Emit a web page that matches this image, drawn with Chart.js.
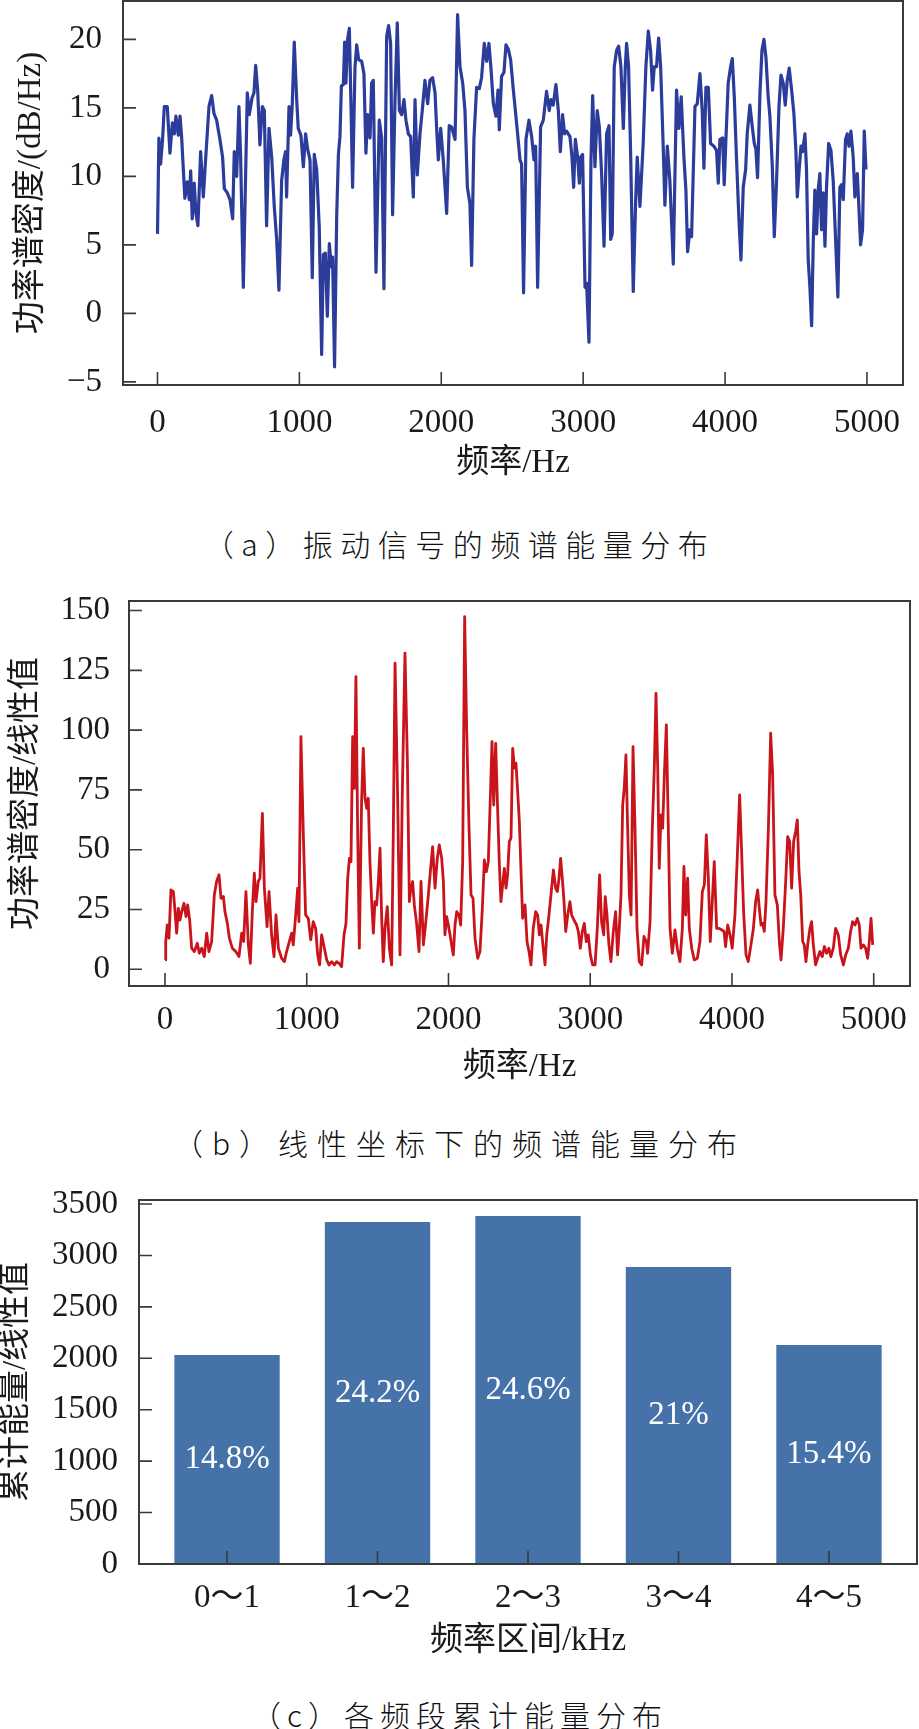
<!DOCTYPE html>
<html lang="zh-CN">
<head>
<meta charset="utf-8">
<title>频谱能量分布</title>
<script src="https://cdn.jsdelivr.net/npm/chart.js@4.4.1/dist/chart.umd.min.js"></script>
<style>
  html, body { margin:0; padding:0; background:#fff; }
  body { width:919px; height:1729px; position:relative; overflow:hidden; }
  .box { position:absolute; left:0; width:919px; }
  .cap { position:absolute; left:0; width:919px; text-align:center; color:#111;
         font-family:"Noto Sans CJK SC", sans-serif; font-weight:300;
         font-size:30px; line-height:36px; }
</style>
</head>
<body>
<div class="box" style="top:0;height:500px"><canvas id="chartA"></canvas></div>
<div class="cap" style="top:525px;letter-spacing:7.5px">（a）振动信号的频谱能量分布</div>
<div class="box" style="top:560px;height:540px"><canvas id="chartB"></canvas></div>
<div class="cap" style="top:1124px;letter-spacing:9px">（b）线性坐标下的频谱能量分布</div>
<div class="box" style="top:1170px;height:510px"><canvas id="chartC"></canvas></div>
<div class="cap" style="top:1696px;letter-spacing:6px">（c）各频段累计能量分布</div>

<script>
// (a) 功率谱密度 dB/Hz
const freqA = [0,10,22,36,48,69,88,105,119,130,147,159,170,193,210,224,234,245,259,271,285,304,323,339,363,382,398,417,440,459,471,492,511,530,541,558,574,586,605,633,647,666,680,692,706,722,739,753,769,786,805,823,840,856,875,892,903,910,927,938,950,964,981,992,1011,1028,1044,1058,1075,1091,1105,1122,1140,1157,1169,1183,1197,1211,1225,1234,1248,1263,1275,1286,1296,1310,1319,1328,1340,1352,1363,1375,1392,1404,1418,1439,1455,1469,1481,1498,1509,1521,1540,1563,1580,1596,1615,1629,1643,1657,1674,1690,1705,1721,1737,1751,1768,1784,1803,1815,1831,1850,1866,1885,1904,1920,1939,1956,1967,1979,1996,2014,2038,2056,2073,2097,2115,2132,2151,2167,2184,2202,2214,2230,2249,2268,2284,2303,2320,2336,2350,2367,2385,2400,2409,2425,2442,2456,2472,2489,2508,2526,2538,2555,2566,2580,2597,2618,2637,2653,2665,2679,2700,2719,2742,2761,2773,2789,2808,2825,2839,2855,2869,2883,2907,2921,2933,2945,2961,2973,2982,2996,3013,3024,3041,3055,3067,3083,3099,3114,3130,3147,3165,3182,3194,3205,3219,3236,3250,3266,3283,3297,3306,3320,3334,3353,3370,3381,3400,3423,3442,3459,3475,3489,3501,3517,3532,3546,3564,3576,3593,3611,3635,3658,3675,3691,3710,3724,3736,3752,3764,3788,3804,3823,3839,3851,3865,3882,3898,3921,3940,3952,3964,3983,3994,4006,4022,4039,4051,4065,4081,4098,4112,4128,4145,4156,4175,4192,4206,4217,4229,4246,4260,4274,4288,4304,4316,4333,4347,4363,4380,4394,4410,4424,4438,4452,4469,4485,4499,4509,4523,4535,4546,4563,4574,4586,4598,4610,4622,4633,4645,4657,4668,4680,4692,4704,4715,4730,4746,4762,4779,4795,4809,4821,4833,4849,4861,4873,4887,4903,4915,4932,4943,4955,4969,4981,4993];
const psdA = [5.8,12.8,10.9,12.7,15.1,15.1,11.7,13.9,13.1,14.4,13.0,14.4,12.9,8.4,9.6,8.3,10.4,6.9,9.5,7.3,6.4,11.8,8.5,11.2,15.1,15.9,14.6,14.1,12.7,11.4,9.1,8.8,8.3,6.9,11.8,10.0,15.1,11.4,1.9,16.1,14.5,15.7,16.1,18.1,16.3,12.3,15.1,14.8,6.4,13.5,11.4,7.8,5.4,1.7,9.7,11.3,11.8,8.5,15.1,13.0,15.3,19.8,15.6,13.5,13.0,10.7,13.1,12.0,11.2,2.6,11.6,10.5,6.3,-3.0,4.3,4.4,-0.2,5.1,3.4,4.1,-3.9,7.1,11.6,12.9,16.6,16.7,19.8,16.8,20.0,20.8,15.6,9.2,18.0,19.6,18.5,18.4,17.5,11.7,14.5,12.8,16.8,17.0,3.0,14.1,12.8,1.8,20.2,21.0,19.7,7.2,15.6,21.2,14.8,14.5,15.6,14.1,13.1,12.9,8.5,15.6,10.1,13.1,14.8,17.0,15.3,17.0,17.2,16.1,13.6,11.2,13.5,11.2,7.3,13.7,13.6,12.7,21.8,18.0,16.8,14.8,9.2,8.0,3.5,12.7,16.5,16.4,17.2,19.7,18.4,19.7,17.9,15.3,14.4,16.3,13.4,17.3,17.6,19.6,19.3,18.5,16.3,14.4,13.1,11.2,10.9,1.5,12.7,14.1,12.9,11.2,12.2,1.9,13.6,14.1,16.2,14.8,15.6,15.2,16.7,14.8,11.8,14.5,13.1,13.3,12.9,11.4,9.2,12.7,11.4,9.5,11.4,11.6,1.9,2.2,-2.1,11.2,15.9,10.7,14.8,13.6,10.2,4.9,13.1,13.7,5.4,5.8,18.0,19.2,19.5,18.0,13.5,18.0,19.7,18.0,11.9,1.6,8.3,11.4,7.8,12.4,18.0,20.6,19.2,16.3,18.0,18.0,20.1,18.0,12.2,7.9,12.2,9.7,3.6,16.3,13.5,15.8,11.4,9.0,4.5,6.1,5.6,15.1,15.3,17.5,14.8,10.6,16.5,16.5,12.4,12.2,11.9,9.5,12.7,12.8,9.4,12.7,16.8,18.0,18.6,15.8,11.2,6.8,3.9,9.2,10.5,13.1,15.2,13.6,12.4,12.0,9.9,16.1,19.2,20.0,18.7,15.8,14.4,10.7,5.6,9.7,15.1,17.4,16.8,15.2,17.0,17.9,16.3,14.6,11.9,8.5,10.6,12.2,11.8,13.1,10.5,3.9,1.9,-0.9,5.4,9.0,5.8,9.1,10.2,6.1,8.8,4.9,9.2,12.4,11.9,9.7,5.4,1.2,9.2,9.4,8.3,12.7,13.1,12.2,13.3,11.4,8.5,10.2,7.8,5.0,6.1,13.3,10.5];

// (b) 功率谱密度 线性值
const freqB = [0,5,16,28,42,59,71,82,94,106,118,134,148,160,174,188,207,228,242,259,277,294,310,329,348,364,381,395,412,423,440,454,475,499,522,541,555,571,588,602,616,630,642,658,670,687,701,720,734,752,769,783,800,823,842,858,877,894,905,922,936,945,959,976,992,1011,1028,1046,1063,1077,1091,1105,1122,1141,1157,1176,1195,1211,1228,1246,1263,1277,1289,1301,1312,1324,1336,1347,1359,1371,1387,1399,1411,1423,1434,1446,1458,1470,1481,1493,1505,1517,1528,1540,1552,1568,1583,1599,1611,1623,1641,1658,1674,1693,1710,1724,1735,1747,1759,1775,1792,1806,1823,1839,1858,1874,1888,1905,1921,1935,1952,1964,1975,1987,1999,2011,2022,2034,2046,2058,2074,2086,2100,2114,2128,2145,2159,2173,2187,2206,2222,2239,2253,2267,2281,2295,2307,2319,2333,2345,2359,2370,2382,2394,2406,2417,2429,2441,2453,2465,2476,2488,2500,2511,2523,2540,2554,2568,2582,2598,2615,2629,2641,2653,2664,2681,2693,2709,2723,2740,2756,2768,2780,2791,2803,2815,2827,2841,2857,2869,2885,2904,2916,2930,2944,2958,2972,2986,3001,3017,3034,3050,3066,3080,3095,3106,3118,3132,3146,3163,3179,3193,3205,3217,3229,3240,3252,3264,3276,3288,3302,3316,3330,3346,3363,3379,3396,3405,3422,3438,3452,3464,3476,3487,3499,3511,3523,3537,3551,3563,3579,3598,3614,3633,3650,3661,3673,3687,3699,3716,3734,3756,3774,3791,3805,3819,3833,3847,3861,3875,3892,3909,3927,3944,3955,3970,3986,4002,4021,4038,4054,4068,4082,4099,4115,4134,4151,4167,4181,4193,4205,4217,4228,4240,4257,4273,4287,4303,4320,4334,4346,4362,4379,4393,4407,4421,4435,4449,4461,4473,4485,4499,4510,4522,4534,4550,4562,4574,4590,4604,4621,4637,4652,4668,4684,4698,4715,4731,4750,4767,4786,4802,4821,4837,4851,4868,4884,4898,4910,4927,4943,4957,4969,4981,4993];
const psdB = [3.9,11.6,18.5,13.0,33.2,32.5,24.1,15.1,25.5,20.6,24.1,27.6,22.0,26.9,20.6,8.8,7.4,10.9,6.7,8.8,5.3,15.1,7.4,11.6,31.1,36.7,39.5,29.7,30.4,24.1,19.2,13.0,8.8,7.4,5.3,15.1,11.6,32.5,10.2,2.5,24.1,40.2,28.3,36.7,38.1,65.2,33.9,17.8,32.5,14.4,5.3,22.7,8.8,4.6,3.2,7.4,11.6,15.1,10.2,22.7,33.9,19.9,97.3,56.2,22.7,21.3,12.3,19.9,17.1,6.0,1.8,14.4,9.5,3.9,1.8,3.2,1.8,3.2,2.5,1.1,14.4,19.2,38.1,46.4,45.0,97.3,75.7,122.4,59.0,8.8,70.1,92.4,71.5,67.3,71.5,45.0,28.3,15.1,28.3,26.9,36.7,50.6,22.7,3.2,17.1,26.2,8.8,1.8,59.0,128.0,72.9,6.0,72.9,132.2,86.9,28.3,33.9,36.7,26.9,19.2,7.4,36.7,10.2,19.2,31.1,42.2,51.3,33.9,46.4,52.0,46.4,36.7,14.4,22.0,18.5,14.4,10.2,6.0,18.5,24.1,22.7,18.5,45.0,147.5,100.8,59.0,31.1,29.7,13.0,4.6,7.4,25.5,45.7,40.8,45.0,71.5,95.2,68.7,94.5,70.1,43.6,28.3,35.3,42.2,33.9,39.5,53.4,54.8,92.4,84.1,86.2,74.3,61.8,42.2,21.3,26.9,11.6,7.4,1.8,17.1,24.1,22.7,14.4,18.5,11.6,1.8,14.4,22.7,31.1,41.5,33.9,32.5,38.1,46.4,38.1,28.3,15.8,22.7,28.3,22.7,20.6,18.5,15.8,8.8,15.8,19.2,11.6,14.4,6.0,1.8,1.8,17.1,39.5,19.9,14.4,30.4,22.7,10.2,3.2,15.8,24.1,6.0,17.1,31.1,68.7,75.7,89.6,59.0,31.1,22.7,93.1,59.0,17.1,3.2,1.8,13.7,11.6,6.7,19.9,59.0,84.1,115.4,84.1,42.2,64.5,59.0,81.3,102.2,59.0,17.1,6.7,16.5,8.8,3.2,17.1,43.0,22.7,38.1,17.1,8.8,3.9,4.6,11.6,32.5,35.3,56.2,38.1,11.6,28.3,45.0,17.1,17.1,16.5,15.8,9.5,18.5,14.4,8.8,22.7,47.8,72.9,49.2,24.1,6.0,3.2,10.2,17.1,28.3,33.2,25.5,18.5,19.2,15.8,28.3,59.0,98.7,81.3,31.1,26.9,11.6,3.9,17.1,36.7,55.5,53.4,33.9,53.4,57.6,62.5,40.8,31.1,11.6,10.2,3.2,10.2,17.1,19.9,10.2,1.8,4.6,7.4,5.3,9.5,6.7,8.8,5.3,8.8,17.1,14.4,6.0,1.8,6.0,8.8,15.8,19.9,18.5,21.3,18.5,8.8,10.2,8.8,4.6,11.6,21.3,10.2];

// (c) 各频段累计能量
const bandLabels = ["0～1","1～2","2～3","3～4","4～5"];
const bandEnergy = [2032,3325,3383,2887,2129];
const bandShare = ["14.8%","24.2%","24.6%","21%","15.4%"];

// 刻度
const freqTicks = [0,1000,2000,3000,4000,5000];
const dbTicks = [-5,0,5,10,15,20];
const linTicks = [0,25,50,75,100,125,150];
const energyTicks = [0,500,1000,1500,2000,2500,3000,3500];
const bandTicks = [0,1,2,3,4];

const SERIF = "'Liberation Serif','Times New Roman','Noto Sans CJK SC',serif";
Chart.defaults.font.family = SERIF;
Chart.defaults.color = "#1a1a1a";
Chart.defaults.animation = false;

// 外框 + 朝内的刻度线
const frame = {
  id: "frame",
  afterDatasetsDraw(chart) {
    const {ctx, chartArea: a, scales: {x, y}} = chart;
    ctx.save();
    ctx.strokeStyle = "#3a3a3a";
    ctx.lineWidth = 2;
    ctx.strokeRect(a.left, a.top, a.right - a.left, a.bottom - a.top);
    ctx.lineWidth = 1.6;
    ctx.beginPath();
    x.ticks.forEach(t => {
      const px = x.getPixelForValue(t.value);
      ctx.moveTo(px, a.bottom); ctx.lineTo(px, a.bottom - 13);
    });
    y.ticks.forEach(t => {
      const py = y.getPixelForValue(t.value);
      ctx.moveTo(a.left, py); ctx.lineTo(a.left + 13, py);
    });
    ctx.stroke();
    ctx.restore();
  }
};

// 柱内百分比
const shareText = {
  id: "shareText",
  afterDatasetsDraw(chart) {
    const ctx = chart.ctx;
    ctx.save();
    ctx.fillStyle = "#fff";
    ctx.font = "33px " + SERIF;
    ctx.textAlign = "center";
    ctx.textBaseline = "middle";
    chart.getDatasetMeta(0).data.forEach((bar, i) => {
      ctx.fillText(bandShare[i], bar.x, (bar.y + bar.base) / 2);
    });
    ctx.restore();
  }
};

function fixTicks(list) {
  return s => { s.ticks = list.map(v => ({value: v})); };
}

function xAxis(o) {
  return {
    type: "linear", bounds: "data", offset: false, min: o.min, max: o.max,
    afterBuildTicks: fixTicks(o.ticks),
    afterFit: s => { s.height = o.height; s.paddingLeft = 0; s.paddingRight = 0; },
    grid: {display: false, offset: false}, border: {display: false},
    ticks: {font: {size: 33}, padding: o.pad, maxRotation: 0, autoSkip: false,
            callback: o.fmt || (v => String(v))},
    title: {display: true, text: o.title, font: {size: 33}, padding: {top: 0, bottom: o.tpad}}
  };
}

function yAxis(o) {
  return {
    type: "linear", bounds: "data", min: o.min, max: o.max,
    afterBuildTicks: fixTicks(o.ticks),
    afterFit: s => { s.width = o.width; s.paddingTop = 0; s.paddingBottom = 0; },
    grid: {display: false}, border: {display: false},
    ticks: {font: {size: 33}, padding: o.pad, autoSkip: false,
            callback: v => v < 0 ? "−" + Math.abs(v) : String(v)},
    title: {display: true, text: o.title, font: {size: 33, lineHeight: o.lh || 1.2},
            padding: {top: o.tpad, bottom: 0}}
  };
}

new Chart(document.getElementById("chartA"), {
  type: "line",
  data: {datasets: [{
    data: freqA.map((f, i) => ({x: f, y: psdA[i]})),
    borderColor: "#2B3C9A", borderWidth: 3.2, pointRadius: 0,
    tension: 0, borderJoinStyle: "round"
  }]},
  options: {
    responsive: true, maintainAspectRatio: false,
    layout: {padding: {top: 1, right: 16, left: 0, bottom: 0}},
    plugins: {legend: {display: false}, tooltip: {enabled: false}},
    scales: {
      x: xAxis({min: -243, max: 5254, ticks: freqTicks, height: 115, pad: 11, tpad: 17, title: "频率/Hz"}),
      y: yAxis({min: -5.23, max: 22.8, ticks: dbTicks, width: 123, pad: 13, tpad: 12, title: "功率谱密度/(dB/Hz)"})
    }
  },
  plugins: [frame]
});

new Chart(document.getElementById("chartB"), {
  type: "line",
  data: {datasets: [{
    data: freqB.map((f, i) => ({x: f, y: psdB[i]})),
    borderColor: "#C9141C", borderWidth: 2.8, pointRadius: 0,
    tension: 0, borderJoinStyle: "round"
  }]},
  options: {
    responsive: true, maintainAspectRatio: false,
    layout: {padding: {top: 41, right: 9, left: 0, bottom: 0}},
    plugins: {legend: {display: false}, tooltip: {enabled: false}},
    scales: {
      x: xAxis({min: -254, max: 5256, ticks: freqTicks, height: 114, pad: 7, tpad: 13, title: "频率/Hz"}),
      y: yAxis({min: -7, max: 154, ticks: linTicks, width: 129, pad: 11, tpad: 7, title: "功率谱密度/线性值"})
    }
  },
  plugins: [frame]
});

new Chart(document.getElementById("chartC"), {
  type: "bar",
  data: {datasets: [{
    data: bandEnergy.map((e, i) => ({x: bandTicks[i], y: e})),
    backgroundColor: "#4572A9", borderWidth: 0,
    barPercentage: 0.7, categoryPercentage: 1
  }]},
  options: {
    responsive: true, maintainAspectRatio: false,
    layout: {padding: {top: 30, right: 2, left: 0, bottom: 0}},
    plugins: {legend: {display: false}, tooltip: {enabled: false}},
    scales: {
      x: xAxis({min: -0.585, max: 4.585, ticks: bandTicks, height: 116, pad: 7, tpad: 19,
                title: "频率区间/kHz", fmt: v => bandLabels[v]}),
      y: yAxis({min: 0, max: 3539, ticks: energyTicks, width: 139, pad: 13, tpad: 0, lh: 1,
                title: "累计能量/线性值"})
    }
  },
  plugins: [frame, shareText]
});
</script>
</body>
</html>
